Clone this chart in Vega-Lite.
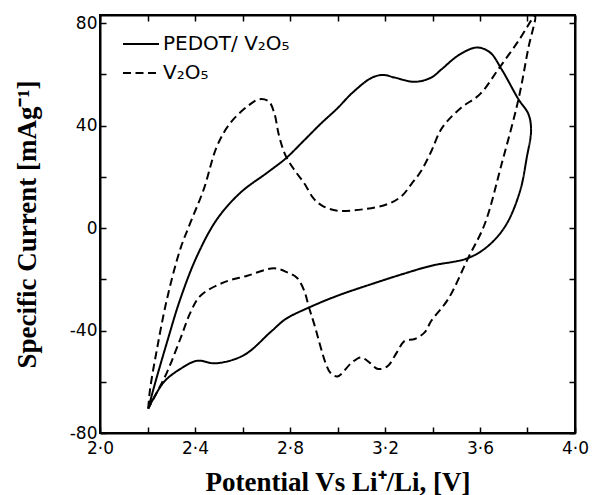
{
  "$schema": "https://vega.github.io/schema/vega-lite/v6.json",
  "width": 475,
  "height": 418,
  "autosize": "none",
  "padding": {"left": 100, "top": 15, "right": 22, "bottom": 62},
  "background": "white",
  "config": {
    "view": {"stroke": "black", "strokeWidth": 2},
    "axis": {
      "grid": false,
      "domainColor": "black",
      "domainWidth": 2,
      "tickColor": "black",
      "tickWidth": 1.5,
      "tickSize": -6,
      "labelFont": "DejaVu Sans",
      "labelFontSize": 17,
      "labelColor": "black",
      "labelFlush": false,
      "labelOverlap": false,
      "labelBound": false,
      "titleFont": "Liberation Serif",
      "titleFontWeight": "bold",
      "titleFontSize": 27,
      "titleColor": "black"
    }
  },
  "data": {
    "values": [
      {"series": "PEDOT/ V₂O₅", "order": 1, "potential": 2.203, "current": -70.5},
      {"series": "PEDOT/ V₂O₅", "order": 2, "potential": 2.233, "current": -60.2},
      {"series": "PEDOT/ V₂O₅", "order": 3, "potential": 2.282, "current": -44.6},
      {"series": "PEDOT/ V₂O₅", "order": 4, "potential": 2.338, "current": -27.7},
      {"series": "PEDOT/ V₂O₅", "order": 5, "potential": 2.409, "current": -10.8},
      {"series": "PEDOT/ V₂O₅", "order": 6, "potential": 2.493, "current": 3.5},
      {"series": "PEDOT/ V₂O₅", "order": 7, "potential": 2.592, "current": 13.9},
      {"series": "PEDOT/ V₂O₅", "order": 8, "potential": 2.705, "current": 21.7},
      {"series": "PEDOT/ V₂O₅", "order": 9, "potential": 2.782, "current": 27.2},
      {"series": "PEDOT/ V₂O₅", "order": 10, "potential": 2.86, "current": 34.3},
      {"series": "PEDOT/ V₂O₅", "order": 11, "potential": 2.93, "current": 40.8},
      {"series": "PEDOT/ V₂O₅", "order": 12, "potential": 3.0, "current": 46.8},
      {"series": "PEDOT/ V₂O₅", "order": 13, "potential": 3.06, "current": 52.6},
      {"series": "PEDOT/ V₂O₅", "order": 14, "potential": 3.142, "current": 58.6},
      {"series": "PEDOT/ V₂O₅", "order": 15, "potential": 3.191, "current": 59.8},
      {"series": "PEDOT/ V₂O₅", "order": 16, "potential": 3.24, "current": 58.8},
      {"series": "PEDOT/ V₂O₅", "order": 17, "potential": 3.325, "current": 57.1},
      {"series": "PEDOT/ V₂O₅", "order": 18, "potential": 3.395, "current": 58.8},
      {"series": "PEDOT/ V₂O₅", "order": 19, "potential": 3.438, "current": 62.0},
      {"series": "PEDOT/ V₂O₅", "order": 20, "potential": 3.51, "current": 67.5},
      {"series": "PEDOT/ V₂O₅", "order": 21, "potential": 3.586, "current": 70.5},
      {"series": "PEDOT/ V₂O₅", "order": 22, "potential": 3.642, "current": 68.6},
      {"series": "PEDOT/ V₂O₅", "order": 23, "potential": 3.691, "current": 62.0},
      {"series": "PEDOT/ V₂O₅", "order": 24, "potential": 3.762, "current": 50.3},
      {"series": "PEDOT/ V₂O₅", "order": 25, "potential": 3.804, "current": 44.5},
      {"series": "PEDOT/ V₂O₅", "order": 26, "potential": 3.815, "current": 38.0},
      {"series": "PEDOT/ V₂O₅", "order": 27, "potential": 3.797, "current": 27.6},
      {"series": "PEDOT/ V₂O₅", "order": 28, "potential": 3.769, "current": 14.6},
      {"series": "PEDOT/ V₂O₅", "order": 29, "potential": 3.71, "current": 1.3},
      {"series": "PEDOT/ V₂O₅", "order": 30, "potential": 3.635, "current": -6.9},
      {"series": "PEDOT/ V₂O₅", "order": 31, "potential": 3.55, "current": -11.7},
      {"series": "PEDOT/ V₂O₅", "order": 32, "potential": 3.395, "current": -14.7},
      {"series": "PEDOT/ V₂O₅", "order": 33, "potential": 3.283, "current": -17.7},
      {"series": "PEDOT/ V₂O₅", "order": 34, "potential": 3.142, "current": -21.9},
      {"series": "PEDOT/ V₂O₅", "order": 35, "potential": 3.0, "current": -26.4},
      {"series": "PEDOT/ V₂O₅", "order": 36, "potential": 2.88, "current": -31.0},
      {"series": "PEDOT/ V₂O₅", "order": 37, "potential": 2.782, "current": -35.5},
      {"series": "PEDOT/ V₂O₅", "order": 38, "potential": 2.719, "current": -40.5},
      {"series": "PEDOT/ V₂O₅", "order": 39, "potential": 2.606, "current": -49.6},
      {"series": "PEDOT/ V₂O₅", "order": 40, "potential": 2.486, "current": -52.8},
      {"series": "PEDOT/ V₂O₅", "order": 41, "potential": 2.409, "current": -51.8},
      {"series": "PEDOT/ V₂O₅", "order": 42, "potential": 2.338, "current": -55.0},
      {"series": "PEDOT/ V₂O₅", "order": 43, "potential": 2.268, "current": -60.2},
      {"series": "PEDOT/ V₂O₅", "order": 44, "potential": 2.203, "current": -70.5},
      {"series": "V₂O₅", "order": 1, "potential": 2.203, "current": -70.5},
      {"series": "V₂O₅", "order": 2, "potential": 2.211, "current": -62.8},
      {"series": "V₂O₅", "order": 3, "potential": 2.24, "current": -47.2},
      {"series": "V₂O₅", "order": 4, "potential": 2.282, "current": -27.7},
      {"series": "V₂O₅", "order": 5, "potential": 2.338, "current": -8.2},
      {"series": "V₂O₅", "order": 6, "potential": 2.381, "current": 2.2},
      {"series": "V₂O₅", "order": 7, "potential": 2.437, "current": 15.2},
      {"series": "V₂O₅", "order": 8, "potential": 2.493, "current": 32.1},
      {"series": "V₂O₅", "order": 9, "potential": 2.55, "current": 41.2},
      {"series": "V₂O₅", "order": 10, "potential": 2.62, "current": 47.5},
      {"series": "V₂O₅", "order": 11, "potential": 2.669, "current": 50.3},
      {"series": "V₂O₅", "order": 12, "potential": 2.71, "current": 49.5},
      {"series": "V₂O₅", "order": 13, "potential": 2.733, "current": 45.2},
      {"series": "V₂O₅", "order": 14, "potential": 2.754, "current": 36.0},
      {"series": "V₂O₅", "order": 15, "potential": 2.782, "current": 28.2},
      {"series": "V₂O₅", "order": 16, "potential": 2.82, "current": 22.5},
      {"series": "V₂O₅", "order": 17, "potential": 2.86, "current": 17.5},
      {"series": "V₂O₅", "order": 18, "potential": 2.9, "current": 11.5},
      {"series": "V₂O₅", "order": 19, "potential": 2.94, "current": 8.5},
      {"series": "V₂O₅", "order": 20, "potential": 3.0, "current": 6.8},
      {"series": "V₂O₅", "order": 21, "potential": 3.113, "current": 7.4},
      {"series": "V₂O₅", "order": 22, "potential": 3.212, "current": 9.4},
      {"series": "V₂O₅", "order": 23, "potential": 3.27, "current": 12.5},
      {"series": "V₂O₅", "order": 24, "potential": 3.311, "current": 17.2},
      {"series": "V₂O₅", "order": 25, "potential": 3.35, "current": 22.0},
      {"series": "V₂O₅", "order": 26, "potential": 3.395, "current": 30.0},
      {"series": "V₂O₅", "order": 27, "potential": 3.43, "current": 37.5},
      {"series": "V₂O₅", "order": 28, "potential": 3.46, "current": 41.5},
      {"series": "V₂O₅", "order": 29, "potential": 3.522, "current": 47.1},
      {"series": "V₂O₅", "order": 30, "potential": 3.6, "current": 52.3},
      {"series": "V₂O₅", "order": 31, "potential": 3.677, "current": 62.0},
      {"series": "V₂O₅", "order": 32, "potential": 3.762, "current": 73.1},
      {"series": "V₂O₅", "order": 33, "potential": 3.832, "current": 82.8},
      {"series": "V₂O₅", "order": 34, "potential": 3.804, "current": 70.5},
      {"series": "V₂O₅", "order": 35, "potential": 3.762, "current": 50.3},
      {"series": "V₂O₅", "order": 36, "potential": 3.691, "current": 25.0},
      {"series": "V₂O₅", "order": 37, "potential": 3.62, "current": 1.6},
      {"series": "V₂O₅", "order": 38, "potential": 3.55, "current": -11.7},
      {"series": "V₂O₅", "order": 39, "potential": 3.466, "current": -27.7},
      {"series": "V₂O₅", "order": 40, "potential": 3.395, "current": -36.2},
      {"series": "V₂O₅", "order": 41, "potential": 3.367, "current": -40.7},
      {"series": "V₂O₅", "order": 42, "potential": 3.325, "current": -43.3},
      {"series": "V₂O₅", "order": 43, "potential": 3.283, "current": -44.0},
      {"series": "V₂O₅", "order": 44, "potential": 3.25, "current": -48.5},
      {"series": "V₂O₅", "order": 45, "potential": 3.21, "current": -54.0},
      {"series": "V₂O₅", "order": 46, "potential": 3.17, "current": -55.0},
      {"series": "V₂O₅", "order": 47, "potential": 3.135, "current": -52.5},
      {"series": "V₂O₅", "order": 48, "potential": 3.099, "current": -50.5},
      {"series": "V₂O₅", "order": 49, "potential": 3.06, "current": -52.5},
      {"series": "V₂O₅", "order": 50, "potential": 3.0, "current": -57.9},
      {"series": "V₂O₅", "order": 51, "potential": 2.97, "current": -56.5},
      {"series": "V₂O₅", "order": 52, "potential": 2.951, "current": -53.0},
      {"series": "V₂O₅", "order": 53, "potential": 2.902, "current": -37.5},
      {"series": "V₂O₅", "order": 54, "potential": 2.88, "current": -31.0},
      {"series": "V₂O₅", "order": 55, "potential": 2.86, "current": -24.5},
      {"series": "V₂O₅", "order": 56, "potential": 2.83, "current": -19.5},
      {"series": "V₂O₅", "order": 57, "potential": 2.789, "current": -17.3},
      {"series": "V₂O₅", "order": 58, "potential": 2.733, "current": -15.7},
      {"series": "V₂O₅", "order": 59, "potential": 2.62, "current": -18.6},
      {"series": "V₂O₅", "order": 60, "potential": 2.521, "current": -21.2},
      {"series": "V₂O₅", "order": 61, "potential": 2.423, "current": -26.4},
      {"series": "V₂O₅", "order": 62, "potential": 2.381, "current": -32.9},
      {"series": "V₂O₅", "order": 63, "potential": 2.338, "current": -43.3},
      {"series": "V₂O₅", "order": 64, "potential": 2.282, "current": -56.3},
      {"series": "V₂O₅", "order": 65, "potential": 2.24, "current": -64.1},
      {"series": "V₂O₅", "order": 66, "potential": 2.203, "current": -70.5}
    ]
  },
  "layer": [
    {
      "transform": [{"filter": "datum.series === 'PEDOT/ V₂O₅'"}],
      "mark": {"type": "line", "interpolate": "catmull-rom", "color": "black", "strokeWidth": 2},
      "encoding": {
        "x": {
          "field": "potential", "type": "quantitative",
          "scale": {"domain": [2, 4], "nice": false, "zero": false},
          "axis": {
            "orient": "bottom",
            "values": [2, 2.2, 2.4, 2.6, 2.8, 3, 3.2, 3.4, 3.6, 3.8, 4],
            "labelExpr": "round(datum.value*10) % 4 === 0 ? replace(format(datum.value, '.1f'), '.', '·') : ''",
            "labelPadding": 13,
            "title": "Potential Vs Li⁺/Li, [V]",
            "titlePadding": 13
          }
        },
        "y": {
          "field": "current", "type": "quantitative",
          "scale": {"domain": [-80, 83.2], "nice": false, "zero": false},
          "axis": {
            "orient": "left",
            "values": [-80, -60, -40, -20, 0, 20, 40, 60, 80],
            "labelExpr": "datum.value % 40 === 0 ? '' + datum.value : ''",
            "labelPadding": 9,
            "title": "Specific Current [mAg⁻¹]",
            "titlePadding": 28
          }
        },
        "order": {"field": "order", "type": "quantitative"},
        "strokeDash": {
          "field": "series", "type": "nominal",
          "scale": {"domain": ["PEDOT/ V₂O₅", "V₂O₅"], "range": [[1, 0], [8, 4.5]]},
          "legend": {
            "orient": "none",
            "legendX": 22,
            "legendY": 10,
            "title": null,
            "symbolType": "stroke",
            "symbolSize": 1296,
            "symbolStrokeWidth": 2,
            "symbolStrokeColor": "black",
            "labelFont": "DejaVu Sans",
            "labelFontSize": 20,
            "labelColor": "black",
            "labelOffset": 3,
            "rowPadding": -12
          }
        }
      }
    },
    {
      "transform": [{"filter": "datum.series === 'V₂O₅'"}],
      "mark": {"type": "line", "interpolate": "catmull-rom", "color": "black", "strokeWidth": 2},
      "encoding": {
        "x": {
          "field": "potential", "type": "quantitative",
          "axis": {
            "orient": "top",
            "values": [2, 2.2, 2.4, 2.6, 2.8, 3, 3.2, 3.4, 3.6, 3.8, 4],
            "labels": false,
            "title": null
          }
        },
        "y": {
          "field": "current", "type": "quantitative",
          "axis": {
            "orient": "right",
            "values": [-80, -60, -40, -20, 0, 20, 40, 60, 80],
            "labels": false,
            "title": null
          }
        },
        "order": {"field": "order", "type": "quantitative"},
        "strokeDash": {"field": "series", "type": "nominal"}
      }
    }
  ],
  "resolve": {"axis": {"x": "independent", "y": "independent"}}
}
